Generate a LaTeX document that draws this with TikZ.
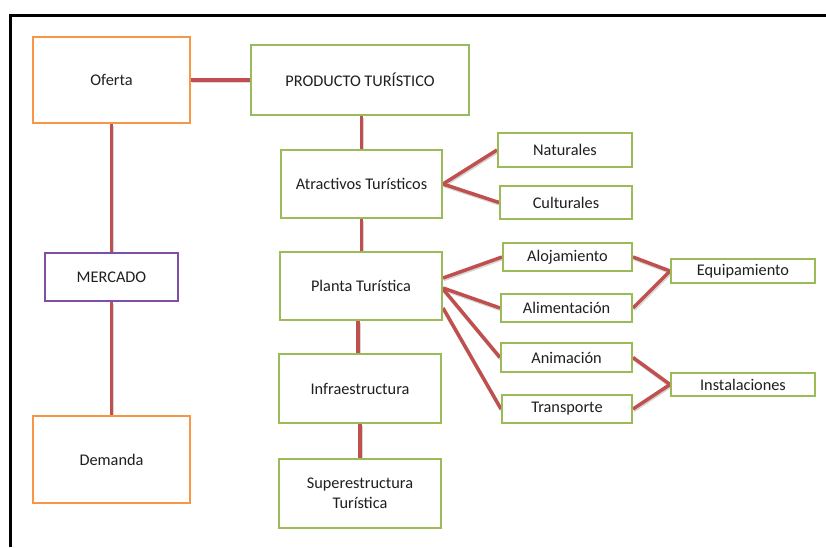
\documentclass[tikz,border=0pt]{standalone}
\usepackage{fontspec}
\setmainfont{Carlito}
\usetikzlibrary{backgrounds}
\definecolor{grn}{HTML}{9BBB59}
\definecolor{org}{HTML}{F79646}
\definecolor{prp}{HTML}{7F4FA5}
\definecolor{lnk}{HTML}{C0504D}
\begin{document}
\begin{tikzpicture}[x=1pt,y=-1pt,
  box/.style={draw, line width=2pt, fill=white, inner sep=0pt, align=center,
    font=\fontsize{16.3}{19}\selectfont, text=black!88},
  gbox/.style={box, draw=grn},
  obox/.style={box, draw=org},
  pbox/.style={box, draw=prp},
  conn/.style={draw=lnk, line width=3.5pt,
    preaction={draw=black!40, opacity=0.4, line width=3.5pt, transform canvas={shift={(0.8pt,-1.5pt)}}}}
]
\useasboundingbox (0,0) rectangle (826,547);
\draw[line width=3pt, black] (826,15) -- (10,15) -- (10,547);

\node[obox, minimum width=157, minimum height=86] (of) at (111.5,80) {Oferta};
\node[gbox, minimum width=218, minimum height=70] (pt) at (360,80) {PRODUCTO TURÍSTICO};
\node[gbox, minimum width=161, minimum height=68] (at) at (361.5,184) {Atractivos Turísticos};
\node[gbox, minimum width=134, minimum height=34] (na) at (565,150) {Naturales};
\node[gbox, minimum width=132, minimum height=33] (cu) at (566,202.5) {Culturales};
\node[pbox, minimum width=133, minimum height=48] (me) at (111.5,277) {MERCADO};
\node[gbox, minimum width=162, minimum height=68] (pl) at (361,286) {Planta Turística};
\node[gbox, minimum width=129, minimum height=28] (al) at (567.5,257) {Alojamiento};
\node[gbox, minimum width=131, minimum height=28] (ali) at (566.5,308) {Alimentación};
\node[gbox, minimum width=144, minimum height=24] (eq) at (743,271) {Equipamiento};
\node[gbox, minimum width=131, minimum height=29] (an) at (566.5,357.5) {Animación};
\node[gbox, minimum width=130, minimum height=28] (tr) at (567,409) {Transporte};
\node[gbox, minimum width=144, minimum height=23] (in) at (743,384.5) {Instalaciones};
\node[gbox, minimum width=162, minimum height=69] (inf) at (360,388.5) {Infraestructura};
\node[obox, minimum width=157, minimum height=87] (de) at (111.5,459.5) {Demanda};
\node[gbox, minimum width=162, minimum height=69] (su) at (360,493.5) {Superestructura\\[1pt]Turística};

\begin{scope}[on background layer]
\draw[conn] (of.east) -- (pt.west);
\draw[conn] (of.south) -- (me.north);
\draw[conn] (me.south) -- (de.north);
\draw[conn] (at.north |- pt.south) -- (at.north);
\draw[conn] (at.south) -- (at.south |- pl.north);
\draw[conn] ([xshift=-3pt]pl.south) -- ([xshift=-3pt]pl.south |- inf.north);
\draw[conn] (inf.south) -- (su.north);
\draw[conn] (at.east) -- (na.west);
\draw[conn] (at.east) -- (cu.west);
\draw[conn] ([yshift=8pt]pl.east) -- (al.west);
\draw[conn] ([yshift=-2pt]pl.east) -- (ali.west);
\draw[conn] ([yshift=-3pt]pl.east) -- (an.west);
\draw[conn] ([yshift=-22pt]pl.east) -- (tr.west);
\draw[conn] (al.east) -- (eq.west);
\draw[conn] (ali.east) -- (eq.west);
\draw[conn] (an.east) -- (in.west);
\draw[conn] (tr.east) -- (in.west);
\end{scope}
\end{tikzpicture}
\end{document}
